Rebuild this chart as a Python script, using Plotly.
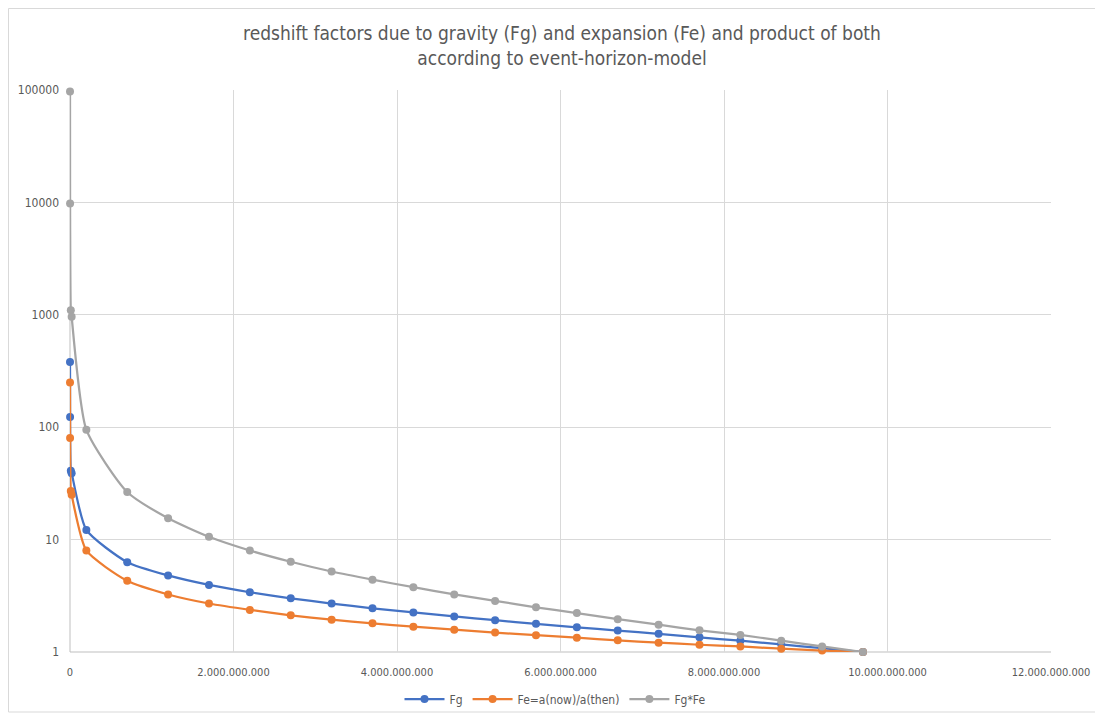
import plotly.graph_objects as go

x_vals = [100000, 1000000, 10000000, 20000000, 200000000, 700000000, 1200000000,
          1700000000, 2200000000, 2700000000, 3200000000, 3700000000, 4200000000,
          4700000000, 5200000000, 5700000000, 6200000000, 6700000000, 7200000000,
          7700000000, 8200000000, 8700000000, 9200000000, 9700000000]
fg = [380, 123, 41, 39, 12.2, 6.3, 4.8, 3.95, 3.4, 3.0, 2.7, 2.45, 2.25, 2.07,
      1.92, 1.78, 1.66, 1.55, 1.45, 1.35, 1.26, 1.17, 1.08, 1.0]
fe = [250, 80, 27, 25, 8.0, 4.3, 3.25, 2.7, 2.37, 2.12, 1.94, 1.8, 1.68, 1.58,
      1.49, 1.41, 1.34, 1.27, 1.21, 1.16, 1.12, 1.07, 1.03, 1.0]
fgfe = [97000, 9800, 1100, 960, 95, 26.5, 15.5, 10.6, 8.0, 6.35, 5.2, 4.4, 3.77,
        3.25, 2.85, 2.5, 2.22, 1.96, 1.75, 1.56, 1.42, 1.26, 1.12, 1.0]

series = [("Fg", fg, "#4472C4"), ("Fe=a(now)/a(then)", fe, "#ED7D31"), ("Fg*Fe", fgfe, "#A5A5A5")]

FONT = "DejaVu Sans Condensed, Lato, sans-serif"
fig = go.Figure()
for name, vals, col in series:
    fig.add_trace(go.Scatter(
        x=x_vals, y=vals, name=name, mode="lines+markers", cliponaxis=False,
        line=dict(color=col, width=2.25, shape="spline", smoothing=0.6),
        marker=dict(color=col, size=8)))

# page body has an 8px offset, so figure coords = screen coords - 8
OFF = 8
W, H = 1103 - OFF, 715 - OFF
L, T = 70 - OFF, 90 - OFF
pw, ph = 981, 562
R, B = W - L - pw, H - T - ph

def px(x):
    return (x - OFF - L) / pw

def py(y):
    return (H - B - (y - OFF)) / ph

fig.add_shape(type="rect", xref="paper", yref="paper",
              x0=px(8.5), x1=px(1098), y0=py(712), y1=py(8.5),
              line=dict(color="#D9D9D9", width=1), fillcolor="rgba(0,0,0,0)", layer="below")

fig.update_layout(
    width=W, height=H,
    margin=dict(l=L, r=R, t=T, b=B, autoexpand=False),
    paper_bgcolor="white", plot_bgcolor="white",
    separators=",.",
    title=dict(text="redshift factors due to gravity (Fg) and expansion (Fe) and product of both<br>according to event-horizon-model",
               x=(562 - OFF) / W, xanchor="center", y=1 - 32 / H, yanchor="top",
               font=dict(family=FONT, size=19, color="#595959")),
    font=dict(family=FONT, size=11, color="#595959"),
    showlegend=True,
    legend=dict(orientation="h", x=px(555), xanchor="center", y=py(699), yanchor="middle",
                bgcolor="rgba(0,0,0,0)", itemwidth=40,
                font=dict(family=FONT, size=12, color="#595959")),
    xaxis=dict(range=[0, 12000000000], dtick=2000000000, tick0=0, tickformat=",.0f",
               showgrid=True, gridcolor="#D9D9D9", gridwidth=1, automargin=False,
               showline=False, zeroline=False, ticks="", ticklabelstandoff=12,
               tickfont=dict(family=FONT, size=11, color="#595959")),
    yaxis=dict(type="log", range=[0, 5], dtick=1, tickformat="d", automargin=False,
               showgrid=True, gridcolor="#D9D9D9", gridwidth=1,
               showline=False, zeroline=False, ticks="", ticklabelstandoff=10,
               tickfont=dict(family=FONT, size=12, color="#595959")),
)
fig.add_shape(type="line", xref="paper", yref="paper", x0=0, x1=1, y0=0, y1=0,
              line=dict(color="#BFBFBF", width=1), layer="below")
fig.add_shape(type="line", xref="paper", yref="paper", x0=0, x1=0, y0=0, y1=1,
              line=dict(color="#BFBFBF", width=1), layer="below")

fig.write_html("out.html")
